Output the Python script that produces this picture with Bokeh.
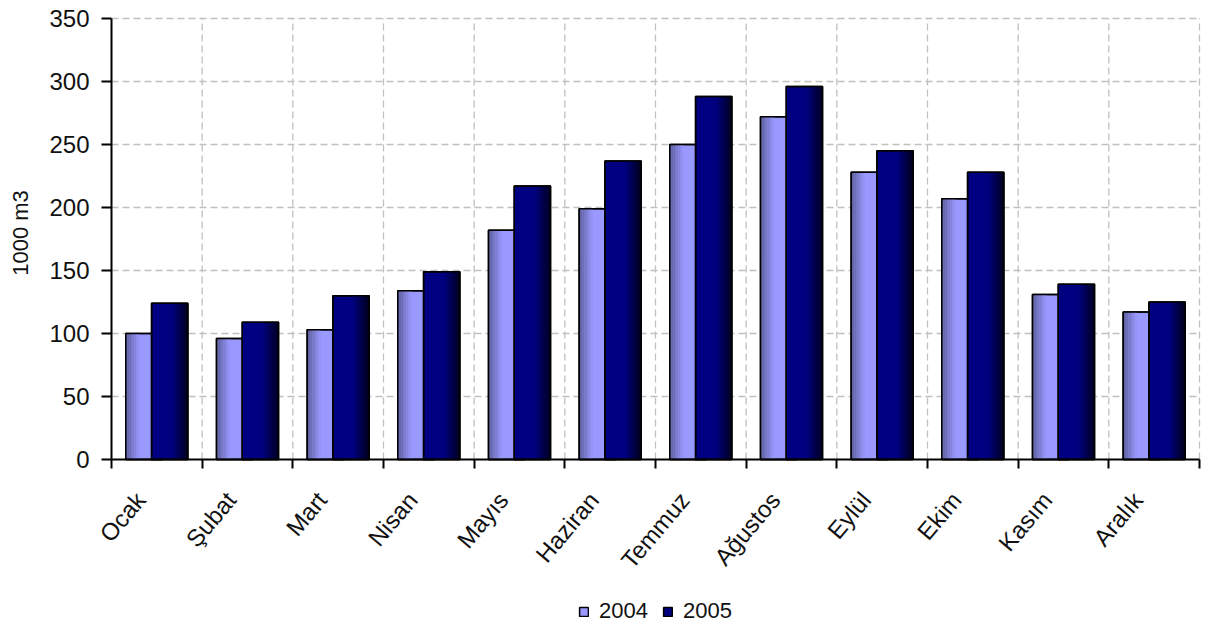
import math
from bokeh.plotting import figure
from bokeh.models import FixedTicker, Legend, LegendItem, ColumnDataSource, Range1d, Label
from bokeh.embed import file_html
from bokeh.resources import INLINE

months = ["Ocak", "Şubat", "Mart", "Nisan", "Mayıs", "Haziran",
          "Temmuz", "Ağustos", "Eylül", "Ekim", "Kasım", "Aralık"]
v2004 = [100, 96, 103, 134, 182, 199, 250, 272, 228, 207, 131, 117]
v2005 = [124, 109, 130, 149, 217, 237, 288, 296, 245, 228, 139, 125]
y_ticks = [0, 50, 100, 150, 200, 250, 300, 350]
series_labels = ["2004", "2005"]
y_title = "1000 m3"

FONT = "Liberation Sans"
TXT = "#111111"
C04 = "#9999ff"
C05 = "#000080"
BAR_W = 0.40
OFF = 0.142
LABEL_SHIFT = 0.18

n = len(months)
y_top = y_ticks[-1]

W, H = 1201, 622
# pixel layout of the value area inside the canvas
PX_L, PX_R, PX_T, PX_B = 111, 1199, 18, 459
ux = (PX_R - PX_L) / n
uy = (PX_B - PX_T) / y_top

p = figure(width=W, height=H,
           x_range=Range1d(-PX_L / ux, n + (W - PX_R) / ux),
           y_range=Range1d(-(H - PX_B) / uy, y_top + PX_T / uy),
           output_backend="svg", toolbar_location=None,
           min_border_left=0, min_border_right=0, min_border_top=0, min_border_bottom=0)
p.outline_line_color = None
p.background_fill_color = "white"
p.border_fill_color = "white"
p.xgrid.visible = False
p.ygrid.visible = False

centers = [i + 0.5 for i in range(n)]
bounds_x = [i + 1 for i in range(n)]
grid_y = y_ticks[1:]

# dashed grid limited to the value area
p.segment(x0=bounds_x, y0=[0] * n, x1=bounds_x, y1=[y_top] * n,
          line_color="#c0c0c0", line_dash="7 4", line_width=1.3)
p.segment(x0=[0] * len(grid_y), y0=grid_y, x1=[n] * len(grid_y), y1=grid_y,
          line_color="#c0c0c0", line_dash="7 4", line_width=1.3)


def hexmix(c1, c2, t):
    a = [int(c1[i:i + 2], 16) for i in (1, 3, 5)]
    b = [int(c2[i:i + 2], 16) for i in (1, 3, 5)]
    return "#%02x%02x%02x" % tuple(round(a[k] + (b[k] - a[k]) * t) for k in range(3))


def draw_series(vals, offset, color, shade, side, gw):
    xs = [c + offset for c in centers]
    src = ColumnDataSource(dict(x=xs, top=vals))
    r = p.vbar(x="x", top="top", width=BAR_W, bottom=0, source=src,
               fill_color=color, line_color="black", line_width=1.5)
    nstrip = 8
    sw = gw / nstrip
    for k in range(nstrip):
        t = (k + 0.5) / nstrip
        if side == "left":
            sx = [x - BAR_W / 2 + sw * (k + 0.5) for x in xs]
        else:
            sx = [x + BAR_W / 2 - sw * (k + 0.5) for x in xs]
        col = hexmix(shade, color, t)
        p.vbar(x=sx, top=vals, width=sw * 1.08, bottom=0,
               fill_color=col, line_color=None)
    p.vbar(x="x", top="top", width=BAR_W, bottom=0, source=src,
           fill_color=None, line_color="black", line_width=1.5)
    return r


r04 = draw_series(v2004, -OFF, C04, "#5a5a96", "left", 0.15)
r05 = draw_series(v2005, OFF, C05, "#000018", "right", 0.18)

# y axis drawn at x = 0
ya = p.yaxis[0]
ya.fixed_location = 0
ya.ticker = FixedTicker(ticks=y_ticks)
ya.bounds = (0, y_top)
ya.major_label_text_font = FONT
ya.major_label_text_font_size = "24px"
ya.major_label_text_color = TXT
ya.major_label_standoff = 12
ya.major_tick_out = 10
ya.major_tick_in = 0
ya.minor_tick_line_color = None
ya.axis_line_width = 2
ya.major_tick_line_width = 2
ya.axis_line_color = "black"

p.add_layout(Label(x=0, y=y_top / 2, x_offset=-91, y_offset=6, text=y_title,
                   angle=math.pi / 2, text_align="center", text_baseline="middle",
                   text_font=FONT, text_font_size="22px", text_color=TXT))

# x axis drawn at value 0
xa = p.xaxis[0]
xa.fixed_location = 0
xa.bounds = (0, n)
label_pos = [c - LABEL_SHIFT for c in centers]
xa.ticker = FixedTicker(ticks=label_pos, minor_ticks=list(range(0, n + 1)))
xa.major_label_overrides = {lp: m for lp, m in zip(label_pos, months)}
xa.major_label_orientation = 0.87
xa.major_label_text_font = FONT
xa.major_label_text_font_size = "24px"
xa.major_label_text_color = TXT
xa.major_label_standoff = 27
xa.major_tick_line_color = None
xa.major_tick_out = 9
xa.minor_tick_out = 9
xa.minor_tick_in = 0
xa.minor_tick_line_color = "black"
xa.minor_tick_line_width = 2
xa.axis_line_width = 2
xa.axis_line_color = "black"

legend = Legend(items=[LegendItem(label=series_labels[0], renderers=[r04]),
                       LegendItem(label=series_labels[1], renderers=[r05])],
                orientation="horizontal", location=(578, -2))
legend.background_fill_alpha = 0
legend.border_line_alpha = 0
legend.padding = 0
legend.margin = 0
legend.glyph_width = 11
legend.glyph_height = 11
legend.label_standoff = 10
legend.spacing = 14
legend.label_text_font = FONT
legend.label_text_font_size = "22px"
legend.label_text_color = TXT
p.add_layout(legend)

open("out.html", "w").write(file_html(p, INLINE))
